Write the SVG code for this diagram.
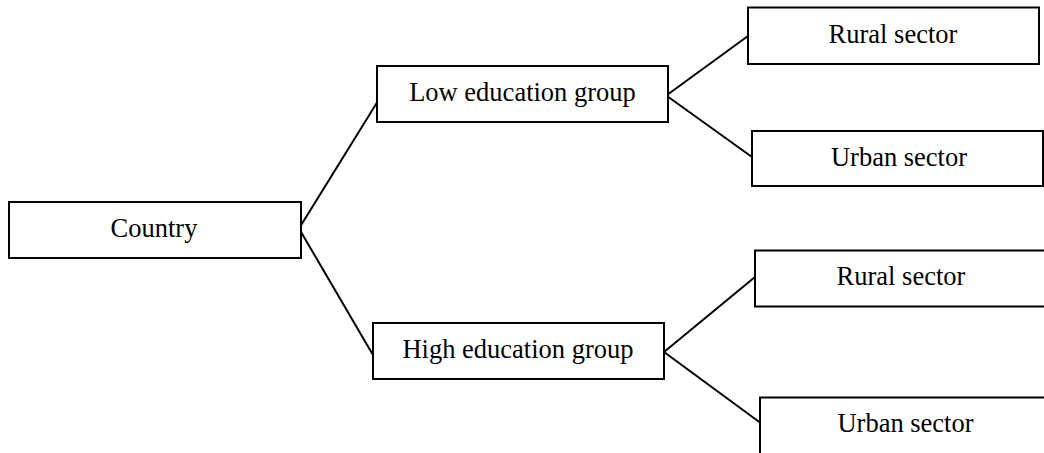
<svg xmlns="http://www.w3.org/2000/svg" width="1044" height="453" viewBox="0 0 1044 453">
<style>
.box{fill:#fff;stroke:#000;stroke-width:2}
.lbl{font-family:"Liberation Serif","Times New Roman",serif;font-size:26.5px;fill:#000;text-anchor:middle}
.edge{stroke:#000;stroke-width:2;fill:none}
</style>
<rect width="1044" height="453" fill="#fff"/>
<g id="connectors">
<line class="edge" x1="299" y1="228.5" x2="377" y2="102.5"/>
<line class="edge" x1="299" y1="228.5" x2="373" y2="355"/>
<line class="edge" x1="667" y1="95" x2="748" y2="36"/>
<line class="edge" x1="667" y1="96" x2="752" y2="157"/>
<line class="edge" x1="664" y1="352" x2="755" y2="277"/>
<line class="edge" x1="664" y1="352" x2="760" y2="422.5"/>
</g>
<g id="country">
<rect class="box" x="9" y="202" width="292" height="56"/>
<text class="lbl" x="154" y="237">Country</text>
</g>
<g id="low">
<rect class="box" x="377" y="66" width="291" height="56"/>
<text class="lbl" x="522.5" y="100.5">Low education group</text>
</g>
<g id="high">
<rect class="box" x="373" y="323" width="291" height="56"/>
<text class="lbl" x="518" y="357.5">High education group</text>
</g>
<g id="rural1">
<rect class="box" x="748" y="7.5" width="291" height="56.5"/>
<text class="lbl" x="893" y="42.5">Rural sector</text>
</g>
<g id="urban1">
<rect class="box" x="752" y="131" width="291" height="55"/>
<text class="lbl" x="899" y="165.5">Urban sector</text>
</g>
<g id="rural2">
<rect class="box" x="755" y="250.5" width="295" height="56"/>
<text class="lbl" x="901" y="285">Rural sector</text>
</g>
<g id="urban2">
<rect class="box" x="760" y="397.5" width="295" height="80"/>
<text class="lbl" x="905.5" y="431.5">Urban sector</text>
</g>
</svg>
